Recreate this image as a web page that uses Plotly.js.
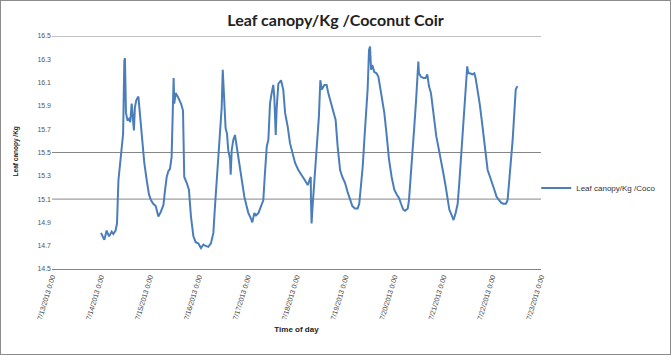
<!DOCTYPE html>
<html>
<head>
<meta charset="utf-8">
<script src="https://cdn.plot.ly/plotly-3.0.1.min.js"></script>
<style>
html,body{margin:0;padding:0;background:#fff;}
#chart{width:669px;height:353px;border:1px solid #8c8c8c;}
</style>
</head>
<body>
<div id="chart"></div>
<script>
// Elapsed hours since 7/13/2013 0:00
const hoursA = [24.05,25.7,26.8,28.0,29.3,30.1,31.2,31.9,32.6,33.4,34.2,34.9,35.5,35.8,36.3,37.0,37.8,38.4,39.1,39.6,40.2,40.7,41.4,42.4,43.2,44.0,45.3,46.5,47.6,48.6,49.7,50.9,52.2,53.4,54.7,55.5,56.3,57.1,57.9,58.7,59.2,59.7,60.0,60.7,62.0,63.3,64.3,64.6,64.9,66.1,67.2,68.2,69.4,70.5,71.8,73.1,74.3];
const valuesA = [14.81,14.75,14.83,14.78,14.82,14.80,14.83,14.89,15.26,15.41,15.55,15.66,16.29,16.31,15.84,15.78,15.79,15.76,15.92,15.78,15.69,15.89,15.95,15.98,15.81,15.61,15.41,15.26,15.14,15.09,15.06,15.04,14.95,14.99,15.05,15.18,15.29,15.34,15.36,15.46,15.75,16.14,15.92,16.01,15.97,15.92,15.86,15.52,15.29,15.24,15.18,14.95,14.78,14.73,14.72,14.68,14.71];
const hoursB = [75.1,76.7,78.0,79.2,80.0,80.8,81.6,82.5,83.3,83.8,84.3,84.6,85.2,85.9,86.5,87.4,87.7,88.2,89.0,89.8,90.6,91.5,92.3,93.4,94.4,95.5,96.4,97.7,98.3,99.3,100.1,101.3,102.6,103.7,104.5,105.4,106.2,107.0,107.8,108.6,109.1,109.8,110.3,111.1,112.4,113.5,114.4,115.7,116.8,118.0,119.3];
const valuesB = [14.70,14.69,14.72,14.81,15.04,15.24,15.38,15.61,15.89,16.21,16.04,15.86,15.71,15.66,15.52,15.44,15.31,15.52,15.61,15.65,15.55,15.44,15.35,15.24,15.12,15.04,14.98,14.93,14.90,14.98,14.96,14.98,15.04,15.09,15.32,15.55,15.61,15.92,16.01,16.08,15.98,15.65,15.89,16.09,16.12,16.04,15.84,15.72,15.58,15.49,15.41];
const hoursC = [120.9,122.5,124.2,125.5,126.3,127.0,127.1,127.4,127.9,128.8,129.4,130.2,131.0,131.7,132.4,133.7,134.8,135.6,136.9,138.1,139.2,140.2,141.4,142.5,143.8,145.1,146.3,147.4,148.7,150.0,150.8,151.7,152.5,153.3,154.1,154.9,155.6,156.1,156.6,157.2,158.2,159.3,160.2,161.0,161.8,163.1,164.3,165.4,166.7,168.0,169.2,170.3,171.3,172.4];
const valuesC = [15.35,15.31,15.26,15.22,15.25,15.29,15.09,14.89,15.04,15.26,15.41,15.55,15.81,16.12,16.04,16.08,16.08,16.01,15.92,15.85,15.78,15.55,15.35,15.29,15.24,15.16,15.09,15.04,15.02,15.02,15.06,15.21,15.38,15.61,15.84,16.04,16.38,16.41,16.21,16.25,16.19,16.18,16.15,16.07,15.98,15.84,15.64,15.44,15.29,15.18,15.14,15.11,15.06,15.01];
const hoursD = [173.3,174.6,175.2,176.0,176.9,177.8,178.7,179.5,179.8,180.1,181.1,182.3,183.4,184.2,185.0,186.0,186.8,187.6,188.6,189.6,190.9,192.1,193.2,194.2,195.0,196.2,197.1,198.1,199.1,199.9,200.7,201.6,202.4,203.2,203.8,204.3,205.2,206.3,207.3,207.9,208.9,209.9,210.9,211.9,212.8,213.8,215.0,216.1,217.1,218.2,219.4,220.4,221.5,222.8,223.6,224.5,225.3,226.1,226.9,227.6,228.4];
const valuesD = [15.00,15.02,15.09,15.26,15.49,15.72,15.95,16.18,16.28,16.18,16.15,16.14,16.14,16.17,16.07,16.01,15.89,15.78,15.64,15.55,15.44,15.32,15.21,15.11,15.01,14.96,14.92,14.98,15.06,15.24,15.44,15.61,15.84,16.04,16.24,16.18,16.18,16.17,16.18,16.14,16.04,15.92,15.78,15.61,15.46,15.35,15.29,15.24,15.18,15.12,15.09,15.07,15.06,15.06,15.09,15.26,15.44,15.61,15.84,16.04,16.07];

const yTicks = [14.5,14.7,14.9,15.1,15.3,15.5,15.7,15.9,16.1,16.3,16.5];
const gridValues = [15.1,15.5,16.5];
const seriesName = 'Leaf canopy/Kg /Coco';

const base = Date.UTC(2013,6,13);
const hours = hoursA.concat(hoursB, hoursC, hoursD);
const values = valuesA.concat(valuesB, valuesC, valuesD);
const xs = hours.map(h => base + h*3600000);

const gridShapes = gridValues.map(v => ({
  type:'line', xref:'paper', yref:'y', x0:0, x1:1, y0:v, y1:v,
  line:{color:'#868686', width:1}, layer:'below'
}));

Plotly.newPlot('chart', [{
  x: xs, y: values, type:'scatter', mode:'lines', name: seriesName,
  line:{color:'#4A7EBB', width:2}
}], {
  width:669, height:353,
  margin:{l:51, r:129, t:35, b:85, autoexpand:false},
  paper_bgcolor:'#fff', plot_bgcolor:'#fff',
  font:{family:'Liberation Sans, Arial, sans-serif', color:'#333'},
  title:{text:'<b>Leaf canopy/Kg /Coconut Coir</b>', font:{family:'Lato, Open Sans, sans-serif', size:16, color:'#222'}, x:0.5, xanchor:'center', y:0.945, yanchor:'middle'},
  xaxis:{
    type:'date', range:[base, base+10*86400000],
    tick0:base, dtick:86400000, tickformat:'%-m/%-d/%Y %-H:%M',
    tickangle:-73, tickfont:{size:7, color:'#444'},
    showgrid:false, zeroline:false, showline:true, linecolor:'#868686', linewidth:1,
    ticks:'', title:{text:'<b>Time of day</b>', font:{size:8, color:'#222'}, standoff:6}
  },
  yaxis:{
    range:[14.5,16.5], tickvals:yTicks, tickformat:'.1f',
    tickfont:{size:7, color:'#555'}, showgrid:false, zeroline:false, showline:false,
    ticks:'', ticklen:0
  },
  annotations:[{
    text:'<b>Leaf canopy /Kg</b>', xref:'paper', yref:'paper', x:-0.0735, y:0.505,
    xanchor:'center', yanchor:'middle', textangle:-90, showarrow:false,
    font:{size:6.5, color:'#222'}
  }],
  shapes: gridShapes,
  showlegend:true,
  legend:{xref:'container', yref:'container', x:0.80, y:0.47, xanchor:'left', yanchor:'middle', font:{size:8, color:'#333'}, bgcolor:'rgba(0,0,0,0)'}
}, {staticPlot:true});
</script>
</body>
</html>
